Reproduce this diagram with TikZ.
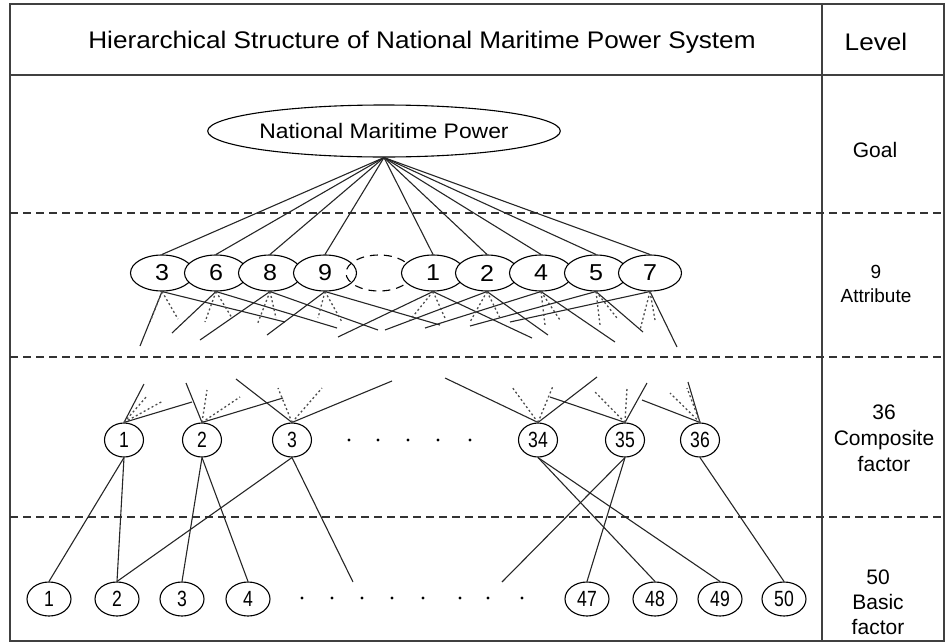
\documentclass[tikz,border=0pt]{standalone}
\usepackage{fontspec}
\setmainfont{Liberation Sans}
\newfontfamily\widefont[FakeStretch=1.09]{Liberation Sans}
\newfontfamily\narrowfont[FakeStretch=0.8]{Liberation Sans}
\usetikzlibrary{shapes.geometric}

\begin{document}
\begin{tikzpicture}[x=1pt,y=-1pt,
  frame/.style={draw=black!75, line width=1.6pt},
  levelsep/.style={draw=black!80, line width=1.5pt, dash pattern=on 8pt off 5pt},
  goalnode/.style={ellipse, draw, line width=1.1pt, fill=white, minimum width=284pt, minimum height=52pt,
    inner sep=0pt, font=\widefont\fontsize{21}{21}\selectfont},
  attr/.style={ellipse, draw, line width=1.1pt, fill=white, minimum width=63pt, minimum height=36pt,
    inner sep=0pt, font=\widefont\fontsize{23}{23}\selectfont},
  ghost/.style={ellipse, draw, line width=1.1pt, dash pattern=on 8pt off 6pt, minimum width=66pt,
    minimum height=36pt, inner sep=0pt},
  comp/.style={ellipse, draw, line width=1.1pt, fill=white, minimum width=39pt, minimum height=34pt,
    inner sep=0pt, font=\narrowfont\fontsize{22}{22}\selectfont},
  basic/.style={ellipse, draw, line width=1.1pt, fill=white, minimum width=44pt, minimum height=34pt,
    inner sep=0pt, font=\narrowfont\fontsize{22}{22}\selectfont},
  link/.style={draw=black!85, line width=1.1pt},
  dotlink/.style={draw=black!70, line width=1.3pt, dash pattern=on 2pt off 2.5pt},
  gapdot/.style={circle, fill=black, inner sep=0pt, minimum size=3.2pt},
  lvl/.style={align=center, font=\fontsize{21}{26}\selectfont},
  head/.style={font=\widefont\fontsize{24}{24}\selectfont}
]
\useasboundingbox (0,0) rectangle (946,643);

% ---------- table frame ----------
\draw[frame] (10,4) rectangle (944,641);
\draw[frame] (10,75) -- (944,75);
\draw[frame] (822,4) -- (822,641);
\foreach \yy in {213,357,517}
  \draw[levelsep] (10,\yy) -- (944,\yy);

\node[head] (title) at (422,42) {Hierarchical Structure of National Maritime Power System};
\node[head] (levelhead) at (876,42) {Level};

% ---------- level labels ----------
\node[lvl] (lgoal) at (875,150) {Goal};
\node[lvl, font=\fontsize{19}{24}\selectfont] (lattr) at (876,284) {9\\Attribute};
\node[lvl] (lcomp) at (884,438) {36\\Composite\\factor};
\node[lvl, font=\fontsize{21}{25}\selectfont] (lbasic) at (878,602) {50\\Basic\\factor};

% ---------- goal ----------
\node[goalnode] (goal) at (384,131) {National Maritime Power};

% ---------- attributes ----------
\node[attr] (a3) at (162,273) {3};
\node[attr] (a6) at (216,273) {6};
\node[attr] (a8) at (270,273) {8};
\node[attr] (a9) at (325,273) {9};
\node[ghost] (ax) at (379,273) {};
\node[attr] (a1) at (433,273) {1};
\node[attr] (a2) at (487,273) {2};
\node[attr] (a4) at (541,273) {4};
\node[attr] (a5) at (596,273) {5};
\node[attr] (a7) at (650,273) {7};

\foreach \a in {a3,a6,a8,a9,a1,a2,a4,a5,a7}
  \draw[link] (goal.south) -- (\a.north);

% loose ends of the attribute-to-composite links
\foreach \n/\x/\y in {
  p3a/140/346, p3b/285/322, p6a/172/333, p6b/337/328,
  p8a/200/340, p8b/378/330, p9a/267/335, p9b/440/325,
  p1a/338/337, p1b/532/338, p2a/385/330, p2b/548/335,
  p4a/425/328, p4b/615/342, p5a/470/326, p5b/643/332,
  p7a/510/322, p7b/677/347}
  \coordinate (\n) at (\x,\y);
\foreach \n/\x/\y in {
  q3a/150/322, q3b/178/319, q6a/205/322, q6b/232/318,
  q8a/257/325, q8b/276/318, q9a/318/318, q9b/342/322,
  q1a/410/320, q1b/445/318, q2a/470/322, q2b/500/318,
  q4a/545/325, q4b/560/320, q5a/600/325, q5b/617/318,
  q7a/640/330, q7b/655/320}
  \coordinate (\n) at (\x,\y);

\foreach \a/\e in {a3/p3a,a3/p3b,a6/p6a,a6/p6b,a8/p8a,a8/p8b,a9/p9a,a9/p9b,
                   a1/p1a,a1/p1b,a2/p2a,a2/p2b,a4/p4a,a4/p4b,a5/p5a,a5/p5b,a7/p7a,a7/p7b}
  \draw[link] (\a.south) -- (\e);
\foreach \a/\e in {a3/q3a,a3/q3b,a6/q6a,a6/q6b,a8/q8a,a8/q8b,a9/q9a,a9/q9b,
                   a1/q1a,a1/q1b,a2/q2a,a2/q2b,a4/q4a,a4/q4b,a5/q5a,a5/q5b,a7/q7a,a7/q7b}
  \draw[dotlink] (\a.south) -- (\e);

% ---------- composite factors ----------
\node[comp] (c1) at (124,440) {1};
\node[comp] (c2) at (202,440) {2};
\node[comp] (c3) at (292,440) {3};
\node[comp] (c34) at (538,440) {34};
\node[comp] (c35) at (625,440) {35};
\node[comp] (c36) at (700,440) {36};

\foreach \x [count=\i] in {349,378,408,438,470}
  \node[gapdot] (cd\i) at (\x,440) {};

\foreach \n/\x/\y in {
  r1a/144/384, r1b/192/402, r2a/186/383, r2b/283/398,
  r3a/236/379, r3b/392/381, r34a/445/378, r34b/597/377,
  r35a/550/397, r35b/647/383, r36a/642/400, r36b/688/382}
  \coordinate (\n) at (\x,\y);
\foreach \n/\x/\y in {
  s1a/147/396, s1b/163/401, s2a/207/390, s2b/240/397,
  s3a/278/388, s3b/322/388, s34a/512/387, s34b/553/386,
  s35a/595/392, s35b/627/388, s36a/670/393, s36b/687/388}
  \coordinate (\n) at (\x,\y);

\foreach \c/\e in {c1/r1a,c1/r1b,c2/r2a,c2/r2b,c3/r3a,c3/r3b,
                   c34/r34a,c34/r34b,c35/r35a,c35/r35b,c36/r36a,c36/r36b}
  \draw[link] (\c.north) -- (\e);
\foreach \c/\e in {c1/s1a,c1/s1b,c2/s2a,c2/s2b,c3/s3a,c3/s3b,
                   c34/s34a,c34/s34b,c35/s35a,c35/s35b,c36/s36a,c36/s36b}
  \draw[dotlink] (\c.north) -- (\e);

% ---------- basic factors ----------
\node[basic] (b1) at (49,599) {1};
\node[basic] (b2) at (117,599) {2};
\node[basic] (b3) at (182,599) {3};
\node[basic] (b4) at (248,599) {4};
\node[basic] (b47) at (587,599) {47};
\node[basic] (b48) at (655,599) {48};
\node[basic] (b49) at (720,599) {49};
\node[basic] (b50) at (784,599) {50};

\foreach \x [count=\i] in {302,332,362,392,423,460,488,522}
  \node[gapdot] (bd\i) at (\x,598) {};

\coordinate (t3) at (353,582);
\coordinate (t35) at (502,582);

\foreach \c/\b in {c1/b1,c1/b2,c2/b3,c2/b4,c3/b2,c34/b48,c34/b49,c35/b47,c36/b50}
  \draw[link] (\c.south) -- (\b.north);
\draw[link] (c3.south) -- (t3);
\draw[link] (c35.south) -- (t35);
\end{tikzpicture}
\end{document}
